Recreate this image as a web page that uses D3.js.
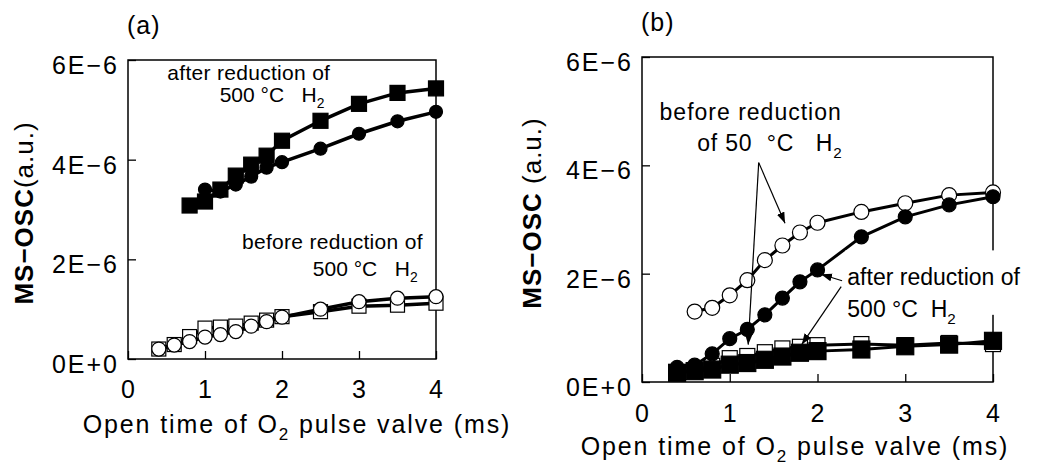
<!DOCTYPE html>
<html>
<head>
<meta charset="utf-8">
<script src="https://cdn.jsdelivr.net/npm/d3@7"></script>
<style>
  body { margin: 0; background: #fff; }
  svg { display: block; font-family: "Liberation Sans", Arial, Helvetica, sans-serif; }
</style>
</head>
<body>
<svg id="chart" width="1039" height="470"></svg>
<script>
// Axis ticks (y values are in units of 1E−6)
const xTickValues = [0, 1, 2, 3, 4];
const yTickValues = [0, 2, 4, 6];
const yTickLabels = ["0E+0", "2E−6", "4E−6", "6E−6"];

// Panel (a): open time (ms) and MS-OSC (×1E−6)
const aXAfterSq = [0.8, 1.0, 1.2, 1.4, 1.6, 1.8, 2.0, 2.5, 3.0, 3.5, 4.0];
const aAfterSq  = [3.08, 3.16, 3.40, 3.68, 3.90, 4.08, 4.38, 4.78, 5.12, 5.34, 5.43];
const aXAfterCi = [1.0, 1.2, 1.4, 1.6, 1.8, 2.0, 2.5, 3.0, 3.5, 4.0];
const aAfterCi  = [3.40, 3.36, 3.50, 3.66, 3.84, 3.95, 4.22, 4.52, 4.77, 4.96];
const aXBefore  = [0.4, 0.6, 0.8, 1.0, 1.2, 1.4, 1.6, 1.8, 2.0, 2.5, 3.0, 3.5, 4.0];
const aBeforeSq = [0.20, 0.29, 0.45, 0.62, 0.64, 0.66, 0.72, 0.78, 0.85, 0.95, 1.06, 1.08, 1.12];
const aBeforeCi = [0.20, 0.28, 0.35, 0.44, 0.49, 0.55, 0.66, 0.75, 0.84, 1.00, 1.15, 1.22, 1.25];

// Panel (b)
const bX        = [0.4, 0.6, 0.8, 1.0, 1.2, 1.4, 1.6, 1.8, 2.0, 2.5, 3.0, 3.5, 4.0];
const bOpenSq   = [0.18, 0.22, 0.30, 0.44, 0.48, 0.55, 0.62, 0.65, 0.68, 0.70, 0.68, 0.72, 0.70];
const bXOpenCi  = [0.6, 0.8, 1.0, 1.2, 1.4, 1.6, 1.8, 2.0, 2.5, 3.0, 3.5, 4.0];
const bOpenCi   = [1.30, 1.37, 1.60, 1.88, 2.25, 2.52, 2.76, 2.94, 3.14, 3.30, 3.45, 3.50];
const bFilledCi = [0.27, 0.31, 0.52, 0.80, 0.97, 1.24, 1.55, 1.85, 2.07, 2.68, 3.05, 3.27, 3.42];
const bFilledSq = [0.17, 0.20, 0.23, 0.32, 0.35, 0.41, 0.47, 0.54, 0.57, 0.60, 0.66, 0.69, 0.76];

const svg = d3.select("#chart");
const FONT_TICK = 25, FONT_NOTE = 21, FONT_NOTE_B = 23;

// arrowhead
svg.append("defs").append("marker")
  .attr("id", "arrow").attr("markerUnits", "userSpaceOnUse")
  .attr("markerWidth", 12).attr("markerHeight", 10)
  .attr("refX", 11).attr("refY", 4).attr("orient", "auto")
  .append("path").attr("d", "M0,0 L11,4 L0,8 Z").attr("fill", "#000");

function zip(xs, ys) { return xs.map((x, i) => [x, ys[i]]); }

function note(sel, x, y, str, size, spacing) {
  return sel.append("text").attr("x", x).attr("y", y).attr("font-size", size)
    .attr("letter-spacing", spacing).style("white-space", "pre").text(str);
}

function h2(sel, x, y, main, size, spacing) {
  const t = sel.append("text").attr("x", x).attr("y", y).attr("letter-spacing", spacing || 0)
    .attr("font-size", size).attr("fill", "#000").style("white-space", "pre");
  t.append("tspan").text(main);
  t.append("tspan").attr("font-size", size * 0.66).attr("dy", size * 0.3).text("2");
  return t;
}

function drawPanel(p) {
  const g = svg.append("g");
  const x = d3.scaleLinear().domain([0, 4]).range([p.left, p.right]);
  const y = d3.scaleLinear().domain([0, 6]).range([p.bottom, p.top]);

  // frame
  g.append("rect").attr("x", p.left).attr("y", p.top)
    .attr("width", p.right - p.left).attr("height", p.bottom - p.top)
    .attr("fill", "none").attr("stroke", "#000").attr("stroke-width", 1.5);

  // axes with inward ticks
  const xAxis = g.append("g").attr("transform", `translate(0,${p.bottom})`)
    .call(d3.axisBottom(x).tickValues(xTickValues).tickSize(-8).tickPadding(0).tickFormat(""));
  const yAxis = g.append("g").attr("transform", `translate(${p.left},0)`)
    .call(d3.axisLeft(y).tickValues(yTickValues).tickSize(-8).tickFormat(""));
  [xAxis, yAxis].forEach(a => {
    a.select(".domain").remove();
    a.selectAll("line").attr("stroke", "#000").attr("stroke-width", 1.3);
  });

  // tick labels
  g.selectAll(".xl").data(xTickValues).join("text")
    .attr("x", d => x(d)).attr("y", p.bottom + p.xLabelGap)
    .attr("text-anchor", "middle").attr("font-size", FONT_TICK)
    .text(d => d);
  g.selectAll(".yl").data(yTickValues).join("text")
    .attr("x", p.left - 9).attr("y", d => y(d) + 14)
    .attr("text-anchor", "end").attr("font-size", FONT_TICK)
    .attr("letter-spacing", 2).text((d, i) => yTickLabels[i]);

  // axis titles
  const xt = g.append("text").attr("x", p.xTitleX).attr("y", p.xTitleY)
    .attr("text-anchor", "middle").attr("font-size", FONT_TICK).attr("letter-spacing", 1.9)
    .style("white-space", "pre");
  xt.append("tspan").text("Open time of O");
  xt.append("tspan").attr("font-size", 17).attr("dy", 7).text("2");
  xt.append("tspan").attr("dy", -7).text(" pulse valve (ms)");

  const yt = g.append("text").attr("transform", `translate(${p.yTitleX},${p.yTitleY}) rotate(-90)`)
    .attr("text-anchor", "middle").attr("font-size", 26).attr("letter-spacing", 1)
    .style("white-space", "pre");
  yt.append("tspan").attr("font-weight", "bold").text("MS−OSC");
  yt.append("tspan").text(p.ySep + "(a.u.)");

  g.append("text").attr("x", p.left - 1).attr("y", p.top - 26)
    .attr("font-size", FONT_TICK).attr("letter-spacing", 1).text(p.tag);

  const line = d3.line().x(d => x(d[0])).y(d => y(d[1]));
  p.series.forEach(s => {
    const pts = zip(s.xs, s.ys);
    g.append("path").datum(pts).attr("d", line)
      .attr("fill", "none").attr("stroke", "#000").attr("stroke-width", s.lw);
    if (s.shape === "square") {
      g.selectAll(null).data(pts).join("rect")
        .attr("x", d => x(d[0]) - s.size / 2).attr("y", d => y(d[1]) - s.size / 2)
        .attr("width", s.size).attr("height", s.size)
        .attr("fill", s.fill).attr("stroke", "#000").attr("stroke-width", 1.2);
    } else {
      g.selectAll(null).data(pts).join("circle")
        .attr("cx", d => x(d[0])).attr("cy", d => y(d[1])).attr("r", s.size / 2)
        .attr("fill", s.fill).attr("stroke", "#000").attr("stroke-width", 1.2);
    }
  });

  p.notes(g, x, y);
}

drawPanel({
  tag: "(a)", left: 128, right: 436, top: 60, bottom: 359,
  xLabelGap: 39, xTitleX: 297, xTitleY: 433, yTitleX: 33, yTitleY: 213, ySep: "",
  series: [
    { xs: aXBefore, ys: aBeforeSq, shape: "square", fill: "#fff", size: 14, lw: 3.5 },
    { xs: aXBefore, ys: aBeforeCi, shape: "circle", fill: "#fff", size: 14, lw: 3.5 },
    { xs: aXAfterCi, ys: aAfterCi, shape: "circle", fill: "#000", size: 13, lw: 3.5 },
    { xs: aXAfterSq, ys: aAfterSq, shape: "square", fill: "#000", size: 15, lw: 3.5 }
  ],
  notes: (g, x, y) => {
    note(g, x(0.51), y(5.6), "after reduction of", FONT_NOTE, 0.3);
    h2(g, x(1.19), y(5.16), "500 °C   H", FONT_NOTE);
    note(g, x(1.48), y(2.21), "before reduction of", FONT_NOTE, 0.3);
    h2(g, x(2.4), y(1.67), "500 °C   H", FONT_NOTE);
  }
});

drawPanel({
  tag: "(b)", left: 642, right: 993, top: 57, bottom: 382,
  xLabelGap: 40, xTitleX: 795, xTitleY: 455, yTitleX: 541, yTitleY: 213, ySep: " ",
  series: [
    { xs: bX, ys: bOpenSq, shape: "square", fill: "#fff", size: 15, lw: 3 },
    { xs: bXOpenCi, ys: bOpenCi, shape: "circle", fill: "#fff", size: 15, lw: 3 },
    { xs: bX, ys: bFilledCi, shape: "circle", fill: "#000", size: 14, lw: 3 },
    { xs: bX, ys: bFilledSq, shape: "square", fill: "#000", size: 17, lw: 3 }
  ],
  notes: (g, x, y) => {
    note(g, x(0.2), y(4.83), "before reduction", FONT_NOTE_B, 1);
    h2(g, x(0.63), y(4.27), "of 50  °C   H", FONT_NOTE_B, 0.8);
    // arrows from the "before" note
    [[1.63, 2.93], [1.21, 0.69]].forEach(t => {
      g.append("line").attr("x1", x(1.33)).attr("y1", y(4.05))
        .attr("x2", x(t[0])).attr("y2", y(t[1]))
        .attr("stroke", "#000").attr("stroke-width", 1.2).attr("marker-end", "url(#arrow)");
    });
    // "after" note sits on a white box over the frame
    const box = g.append("rect").attr("fill", "#fff");
    const t1 = note(g, x(2.34), y(1.79), "after reduction of", FONT_NOTE_B, 0);
    h2(g, x(2.34), y(1.2), "500 °C  H", FONT_NOTE_B);
    const bb = t1.node().getBBox();
    box.attr("x", bb.x - 2).attr("y", y(2.43)).attr("width", bb.width + 6).attr("height", y(1.24) - y(2.43));
    [[2.28, 1.87, 2.04, 1.99], [2.27, 1.76, 1.82, 0.69]].forEach(a => {
      g.append("line").attr("x1", x(a[0])).attr("y1", y(a[1]))
        .attr("x2", x(a[2])).attr("y2", y(a[3]))
        .attr("stroke", "#000").attr("stroke-width", 1.2).attr("marker-end", "url(#arrow)");
    });
  }
});
</script>
</body>
</html>
